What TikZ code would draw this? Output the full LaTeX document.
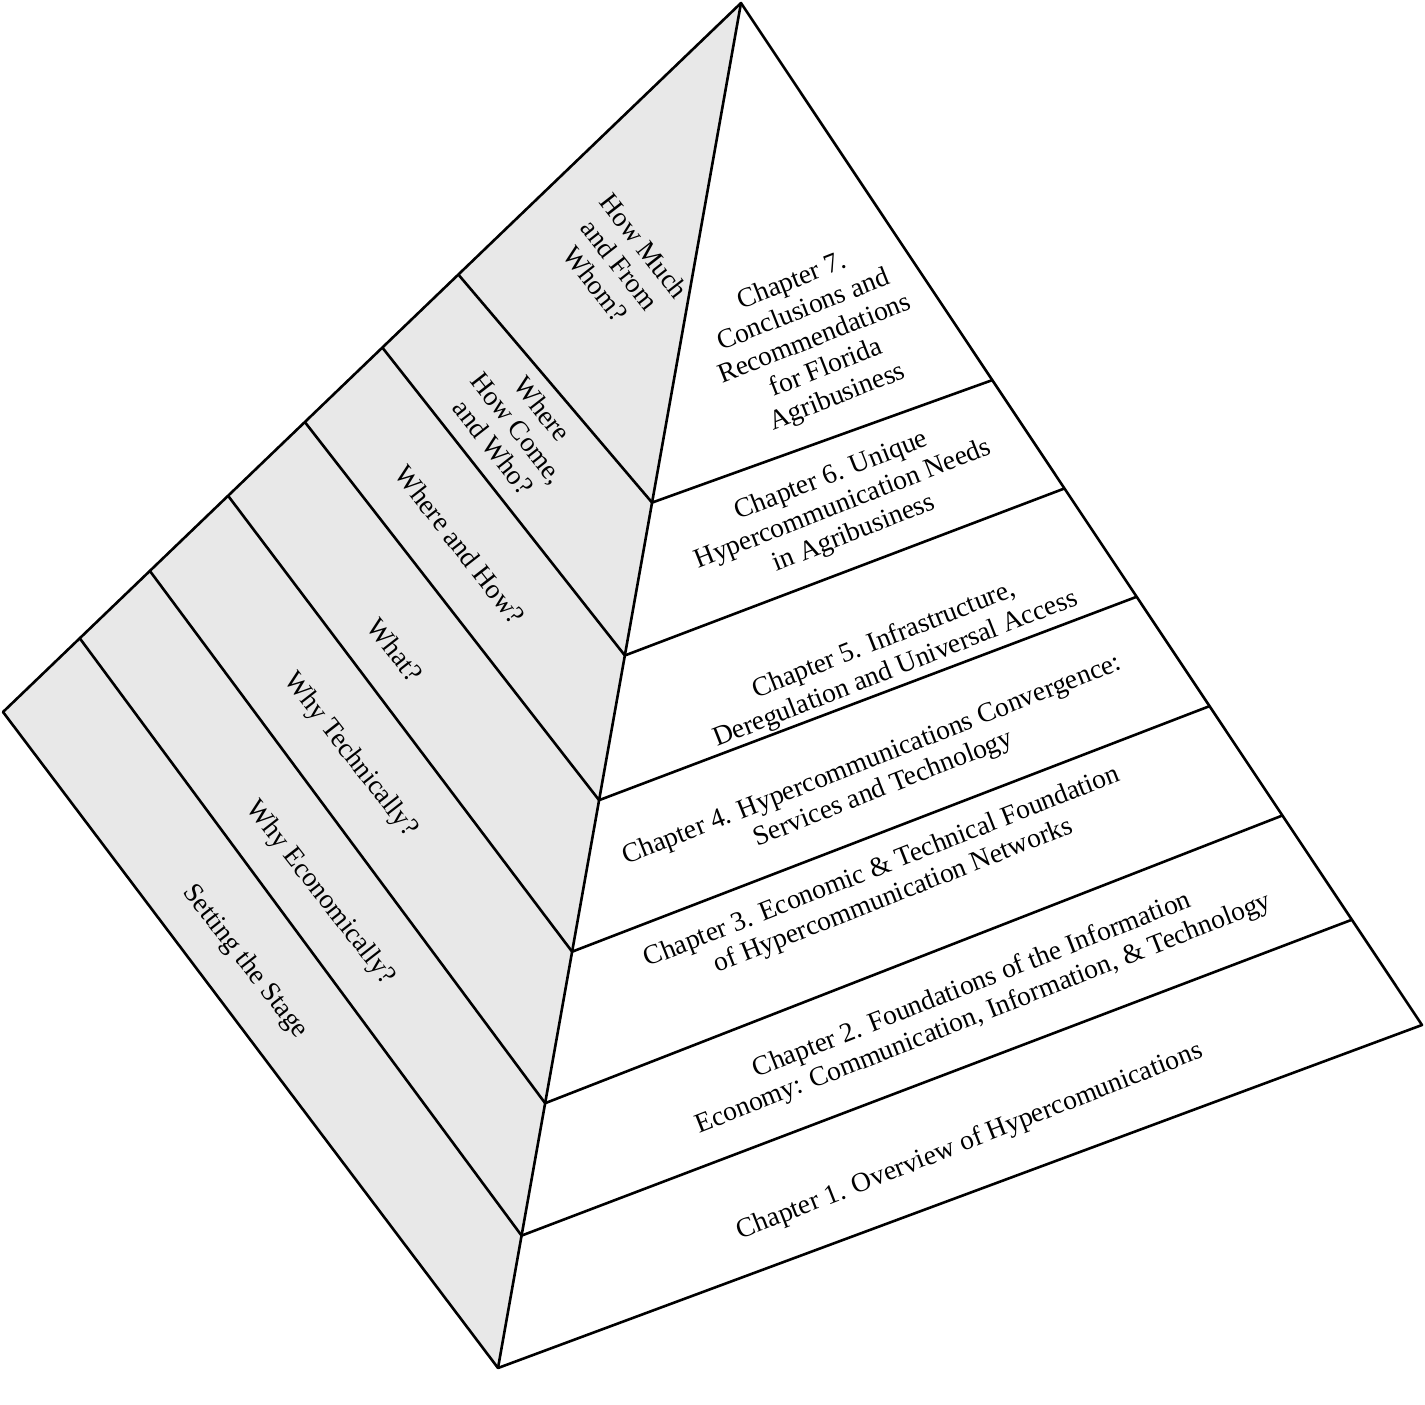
\documentclass[tikz,border=0pt]{standalone}
\usepackage{fontspec}
\setmainfont{Liberation Serif}
\usetikzlibrary{calc}
\begin{document}
\begin{tikzpicture}[x=1pt,y=-1pt,line width=2.6pt,line join=round,
  ch/.style={align=center,rotate=21.5,inner sep=0pt,font=\fontsize{27.5}{31}\selectfont},
  q/.style={align=center,rotate=-52,inner sep=0pt,font=\fontsize{27.5}{31}\selectfont}]
\useasboundingbox (0,0) rectangle (1425,1405);
\coordinate (A) at (741,3);
\coordinate (L) at (3,712);
\coordinate (B) at (498,1368);
\coordinate (R) at (1422,1025);
\fill[gray!18] (A) -- (L) -- (B) -- cycle;
\draw (A) -- (L) -- (B) -- (R) -- cycle;
\draw (A) -- (B);
\foreach \l/\d/\r in {0.383/0.366/0.369,0.486/0.478/0.475,0.591/0.584/0.581,0.695/0.695/0.688,0.801/0.806/0.795,0.896/0.903/0.897}{
  \draw ($(A)!\l!(L)$) -- ($(A)!\d!(B)$) -- ($(A)!\r!(R)$);
}
\node[ch] (c7) at (815,340) {Chapter 7.\\Conclusions and\\Recommendations\\for Florida\\Agribusiness};
\node[ch] (c6) at (843,505) {Chapter 6. Unique\\Hypercommunication Needs\\in Agribusiness};
\node[ch] (c5) at (890,655) {Chapter 5. Infrastructure,\\Deregulation and Universal Access};
\node[ch] (c4) at (878,775) {Chapter 4. Hypercommunications Convergence:\\Services and Technology};
\node[ch] (c3) at (888,882) {Chapter 3. Economic \& Technical Foundation\\of Hypercommunication Networks};
\node[ch] (c2) at (978,1000) {Chapter 2. Foundations of the Information\\Economy: Communication, Information, \& Technology};
\node[ch] (c1) at (970,1142) {Chapter 1. Overview of Hypercomunications};
\node[q] (q7) at (620,265) {How Much\\and From\\Whom?};
\node[q] (q6) at (518,428) {Where\\How Come,\\and Who?};
\node[q] (q5) at (460,545) {Where and How?};
\node[q] (q4) at (395,650) {What?};
\node[q] (q3) at (350,755) {Why Technically?};
\node[q] (q2) at (320,893) {Why Economically?};
\node[q] (q1) at (245,962) {Setting the Stage};
\end{tikzpicture}
\end{document}
